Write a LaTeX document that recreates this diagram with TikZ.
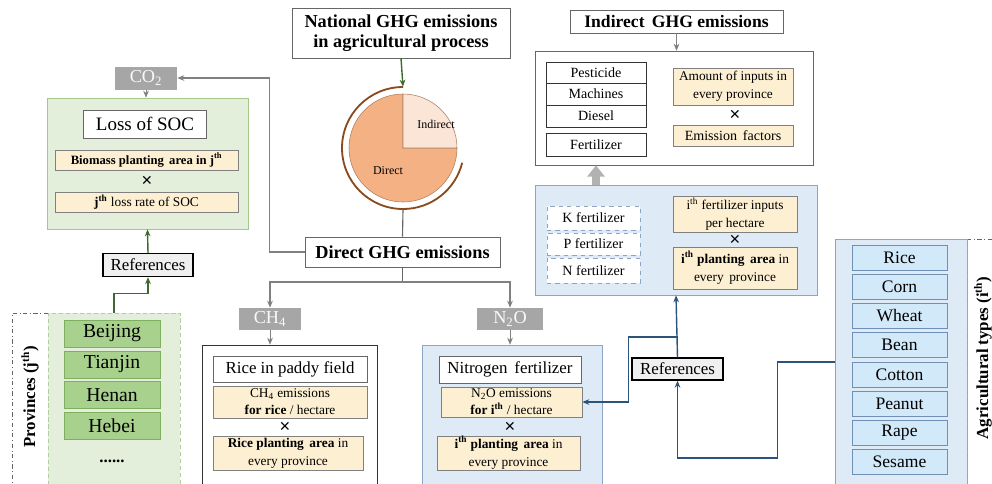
\documentclass[tikz,border=0pt]{standalone}
\usepackage{fontspec}
\setmainfont{Liberation Serif}
\newfontfamily\crossfont{Liberation Sans}
\usetikzlibrary{positioning, calc, arrows.meta}
\definecolor{yelfill}{HTML}{FDEFD2}
\definecolor{grnfill}{HTML}{E3EFDB}
\definecolor{grnitem}{HTML}{A9D18E}
\definecolor{grnline}{HTML}{7DAF5E}
\definecolor{bluefill}{HTML}{DEEBF7}
\definecolor{blueitem}{HTML}{D2E9F9}
\definecolor{blueline}{HTML}{6F8FB5}
\definecolor{darkblue}{HTML}{2E5379}
\definecolor{darkgreen}{HTML}{3D6B2D}
\definecolor{gasgray}{HTML}{A6A6A6}
\definecolor{piedir}{HTML}{F4B183}
\definecolor{pieind}{HTML}{FBE5D6}
\definecolor{piearc}{HTML}{8B4A1C}
\tikzset{
  fs/.style={font=\fontsize{#1}{#1}\selectfont},
  sz/.style 2 args={minimum width=#1*0.025cm, minimum height=#2*0.025cm, inner sep=0pt},
  box/.style={draw=gray!80!black, fill=white, align=center},
  yel/.style={draw=gray, fill=yelfill, align=center},
  gas/.style={fill=gasgray, text=white!95!gray, fs=13},
  refbox/.style={draw=black, line width=0.9pt, fill=gray!12, fs=12},
  prov/.style={draw=grnline, fill=grnitem, fs=14, sz={96}{27}},
  crop/.style={draw=blueline, fill=blueitem, fs=12.5, sz={95}{25}},
  fert/.style={draw=blueline!80, dashed, fill=white, fs=10},
  times/.style={font=\crossfont\fontsize{13}{13}\selectfont, inner sep=0pt},
  garrow/.style={draw=gray, -{Stealth[length=5pt,width=4pt]}},
  barrow/.style={draw=darkblue, line width=1pt, -{Stealth[length=5pt,width=4pt]}},
  gnarrow/.style={draw=darkgreen, line width=1pt, -{Stealth[length=5pt,width=4pt]}}
}
\begin{document}
\begin{tikzpicture}[x=0.025cm, y=-0.025cm]
\useasboundingbox (0,0) rectangle (992,483);
\clip (0,0) rectangle (992,483);
%centro
\node[box, sz={218}{50}, font=\bfseries\fontsize{13}{14}\selectfont] (national) at (401,33) {National GHG emissions\\in agricultural process};
\node[circle, sz={122}{122}] (pie) at (403,148) {};
\begin{scope}[shift={(pie.center)}, yscale=-1]
  \fill[piedir, draw=piearc!70, line width=0.4pt] (0,0) -- (0,54) arc[start angle=90, end angle=360, radius=54] -- cycle;
  \fill[pieind, draw=piearc!70, line width=0.4pt] (0,0) -- (54,0) arc[start angle=0, end angle=90, radius=54] -- cycle;
  \draw[piearc, line width=1.3pt] (90:61) arc[start angle=90, end angle=346, radius=61];
\end{scope}
\node[fs=8.5] (indlab) at (436,124) {Indirect};
\node[fs=8.5] (dirlab) at (388,171) {Direct};
\draw[gnarrow] (national.south) -- (pie.north);
\node[box, sz={195}{30}, font=\bfseries\fontsize{13}{15}\selectfont] (direct) at (402.5,252) {Direct GHG emissions};
\draw[gray!80!black, line width=0.8pt] (pie.south) -- (direct.north);
%co2 e perdita di SOC
\node[gas, sz={62}{23}] (co2) at (146,78) {CO\textsubscript{2}};
\draw[garrow, line width=0.8pt] (direct.west) -- ++(-35,0) |- (co2.east);
\node[draw=grnline!70, fill=grnfill, sz={201}{131}] (socbox) at (147.5,163.5) {};
\draw[garrow] (co2.south) -- (co2.south |- socbox.north);
\node[box, sz={123}{28}, fs=13.5] (soc) at (145,124) {Loss of SOC};
\node[yel, sz={183}{20}, font=\bfseries\fontsize{9}{11}\selectfont] (biomass) at (146.5,160) {Biomass planting\, area in j\textsuperscript{th}};
\node[times] (x1) at (147,181) {×};
\node[yel, sz={183}{20}, fs=9.5] (lossrate) at (146.5,202) {\textbf{j\textsuperscript{th}} loss rate of SOC};
\node[refbox, sz={90}{23}] (refL) at (148,265) {References};
\draw[gnarrow] (refL.north) -- (socbox.south);
%province
\node[draw=grnline!60, fill=grnfill, densely dashed, sz={132}{180}] (provbox) at (114,403) {};
\draw[gray!80!black, dash dot] (48,313) -- (12,313) -- (12,490);
\node[rotate=90, font=\bfseries\fontsize{12}{14}\selectfont] (provlab) at (30,397) {Provinces (j\textsuperscript{th})};
\node[prov] (beijing) at (112,333.5) {Beijing};
\node[prov] (tianjin) at (112,364.5) {Tianjin};
\node[prov] (henan) at (112,395) {Henan};
\node[prov] (hebei) at (112,426) {Hebei};
\node[font=\bfseries\fontsize{12}{14}\selectfont] (pdots) at (112,461) {......};
\draw[gnarrow] (provbox.north) -- ++(0,-19) -| (refL.south);
%ch4 e n2o
\coordinate (split) at (402.5,282);
\node[gas, sz={62}{22}] (ch4) at (270,319) {CH\textsubscript{4}};
\node[gas, sz={66}{22}] (n2o) at (510,319) {N\textsubscript{2}O};
\draw[gray!80!black, line width=0.8pt] (direct.south) -- (split);
\draw[garrow, line width=0.8pt] (split) -| (ch4.north);
\draw[garrow, line width=0.8pt] (split) -| (n2o.north);
\node[draw=black!80, fill=white, sz={175}{145}] (ricebox) at (289.5,417.5) {};
\draw[garrow] (ch4.south) -- (ch4.south |- ricebox.north);
\node[box, sz={154}{26}, fs=12] (paddy) at (290,369) {Rice in paddy field};
\node[yel, sz={154}{32}, font=\fontsize{9.5}{12}\selectfont] (ch4em) at (290,402) {CH\textsubscript{4} emissions\\\textbf{for rice} / hectare};
\node[times] (x2) at (285,427) {×};
\node[yel, sz={150}{34}, font=\fontsize{9.5}{13}\selectfont] (riceplant) at (288,453) {\textbf{Rice planting\, area} in\\every province};
\node[draw=blueline!80, fill=bluefill, sz={180}{145}] (n2obox) at (512,417.5) {};
\draw[garrow] (n2o.south) -- (n2o.south |- n2obox.north);
\node[box, sz={142}{27}, fs=12] (nitro) at (510,369.5) {Nitrogen\, fertilizer};
\node[yel, sz={141}{30}, font=\fontsize{9.5}{12}\selectfont] (n2oem) at (511.5,402) {N\textsubscript{2}O emissions\\\textbf{for i\textsuperscript{th}} / hectare};
\node[times] (x3) at (510,427) {×};
\node[yel, sz={143}{34}, font=\fontsize{9.5}{13}\selectfont] (iplant) at (508.5,453) {\textbf{i\textsuperscript{th} planting\, area} in\\every province};
%indiretto
\node[box, sz={213}{23}, font=\bfseries\fontsize{12.5}{14}\selectfont] (indirect) at (676.5,21.5) {Indirect\, GHG emissions};
\node[draw=gray!80!black, fill=white, sz={278}{114}] (indbox) at (674,108) {};
\draw[garrow] (indirect.south) -- (indirect.south |- indbox.north);
\node[box, draw=black!80, sz={100}{21}, fs=10] (pest) at (596,72.5) {Pesticide};
\node[box, draw=black!80, sz={100}{22}, fs=10] (mach) at (596,94) {Machines};
\node[box, draw=black!80, sz={100}{22}, fs=10] (diesel) at (596,116) {Diesel};
\node[box, draw=black!80, sz={100}{23}, fs=10] (fertz) at (596,144.5) {Fertilizer};
\node[yel, sz={120}{37}, font=\fontsize{9.5}{13}\selectfont] (amount) at (733,86.5) {Amount of inputs in\\every province};
\node[times] (x4) at (735,115) {×};
\node[yel, sz={120}{21}, fs=10] (emfac) at (733,135.5) {Emission\, factors};
%fertilizzanti
\node[draw=blueline!80, fill=bluefill, sz={282}{110}] (fertbox) at (676,240) {};
\draw[gray!60, line width=5pt, -{Triangle[length=8pt,width=12pt]}] (fertbox.north -| fertz) -- (indbox.south -| fertz);
\node[fert, sz={93}{24}] (kf) at (593.5,218) {K fertilizer};
\node[fert, sz={93}{22}] (pf) at (593.5,244) {P fertilizer};
\node[fert, sz={93}{25}] (nf) at (593.5,270.5) {N fertilizer};
\node[yel, sz={124}{36}, font=\fontsize{9.5}{12.5}\selectfont] (ifert) at (735,214) {i\textsuperscript{th} fertilizer inputs\\per hectare};
\node[times] (x5) at (735,240) {×};
\node[yel, sz={124}{42}, font=\fontsize{9.5}{13.5}\selectfont] (iplant2) at (735,268) {\textbf{i\textsuperscript{th} planting\, area} in\\every\, province};
%tipi agricoli
\node[refbox, sz={91}{22}] (refR) at (677.5,369) {References};
\coordinate (tap) at (677.5,337);
\draw[barrow] (refR.north) -- (fertbox.south);
\draw[barrow] (tap) -- ++(-49,0) |- (n2oem.east);
\node[draw=blueline!80, fill=bluefill, sz={132}{246}] (agbox) at (901,362) {};
\draw[gray!80!black, dash dot] (967,239) -- (992,239);
\draw[gray!70, densely dashed] (967,239) -- (967,490);
\node[rotate=90, font=\bfseries\fontsize{12}{14}\selectfont] (aglab) at (983,358) {Agricultural types (i\textsuperscript{th})};
\foreach \crp/\yy in {Rice/257.5, Corn/286.5, Wheat/315.5, Bean/344.5, Cotton/374.5, Peanut/404, Rape/432.5, Sesame/462} {
  \node[crop] (\crp) at (899.5,\yy) {\crp};
}
\draw[barrow] (agbox.west) -- ++(-57,0) -- ++(0,96) -| (refR.south);
\end{tikzpicture}
\end{document}
